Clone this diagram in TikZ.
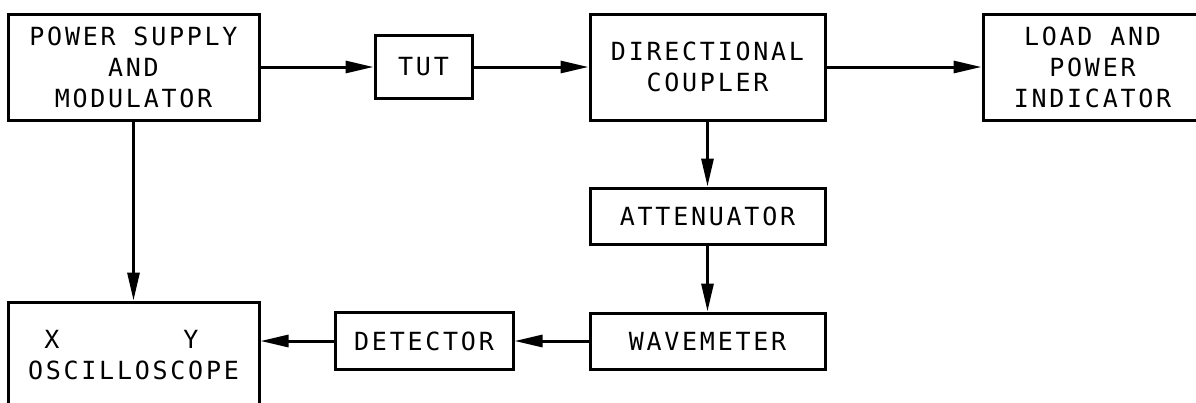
\documentclass[tikz,border=0pt]{standalone}
\usepackage{fontspec}
\newfontfamily\cadfont{DejaVu Sans Mono}[LetterSpace=11]
\usepackage{tikz}
\usetikzlibrary{arrows.meta,positioning}

\begin{document}
\begin{tikzpicture}[x=1pt,y=1pt,>={Triangle[length=28pt,width=12pt]},
  block/.style={draw,line width=3pt,inner sep=0pt,align=center,
    font=\cadfont\fontsize{25}{31}\selectfont},
  flow/.style={->,line width=3pt}]
\useasboundingbox (0,0) rectangle (1196,-402);
\node[block,minimum width=251pt,minimum height=106pt] (ps) at (133.5,-67) {POWER SUPPLY\\AND\\MODULATOR};
\node[block,minimum width=97pt,minimum height=63pt,right=113pt of ps] (tut) {TUT};
\node[block,minimum width=235pt,minimum height=106pt,right=115pt of tut] (dc) {DIRECTIONAL\\COUPLER};
\node[block,minimum width=219pt,minimum height=106pt,right=155pt of dc] (load) {LOAD AND\\POWER\\INDICATOR};
\node[block,minimum width=235pt,minimum height=56pt,below=65pt of dc] (att) {ATTENUATOR};
\node[block,minimum width=235pt,minimum height=56pt,below=66pt of att] (wave) {WAVEMETER};
\node[block,minimum width=178pt,minimum height=57pt,left=74pt of wave] (det) {DETECTOR};
\node[block,minimum width=251pt,minimum height=106pt,below=179pt of ps] (osc)
  {\makebox[214pt][l]{\hspace{17.8pt}X\hspace{124pt}Y}\\OSCILLOSCOPE};
\draw[flow] (ps) -- (tut);
\draw[flow] (tut) -- (dc);
\draw[flow] (dc) -- (load);
\draw[flow] (dc) -- (att);
\draw[flow] (att) -- (wave);
\draw[flow] (wave) -- (det);
\draw[flow] (det.west) -- (det.west -| osc.east);
\draw[flow] (ps) -- (osc);
\end{tikzpicture}
\end{document}
